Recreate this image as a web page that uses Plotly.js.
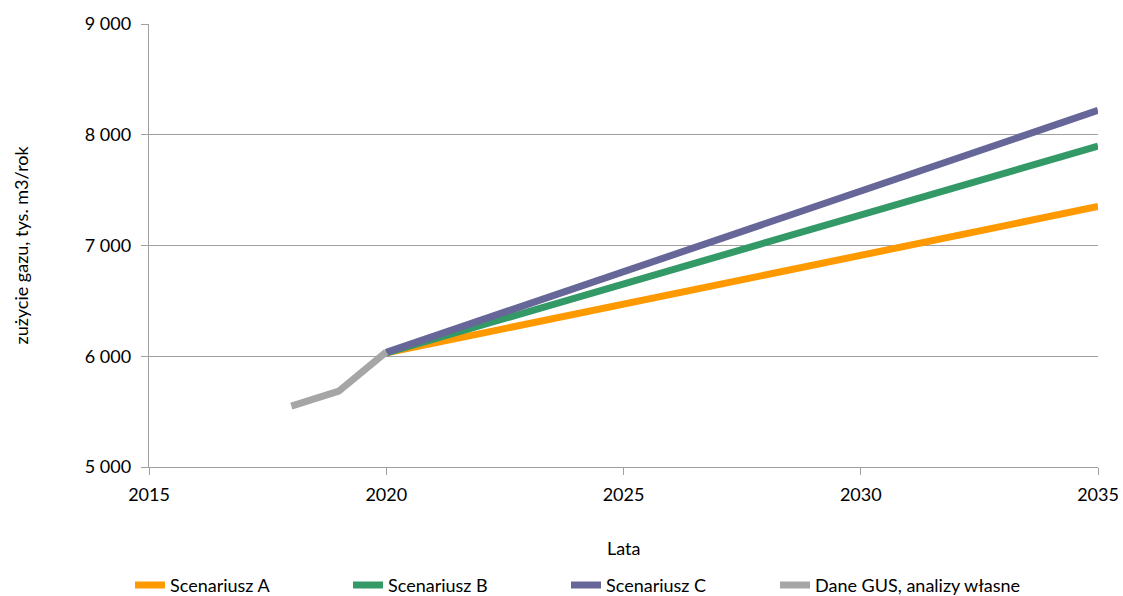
<!DOCTYPE html>
<html>
<head>
<meta charset="utf-8">
<script src="https://cdn.plot.ly/plotly-3.0.1.min.js"></script>
<style>html,body{margin:0;padding:0;background:#fff;}#chart{width:1123px;height:596px;}</style>
</head>
<body>
<div id="chart"></div>
<script>
var scenarioYears = [2020, 2035];
var scenarioA = [6030, 7352];
var scenarioB = [6030, 7898];
var scenarioC = [6035, 8220];
var gusYears = [2018, 2019, 2020];
var gusValues = [5550, 5685, 6038];
var seriesNames = ["Scenariusz A", "Scenariusz B", "Scenariusz C", "Dane GUS, analizy własne"];
var colors = ["#FF9900", "#339966", "#666699", "#A6A6A6"];
var xTitle = "Lata";
var yTitle = "zużycie gazu, tys. m3/rok";

var font = "Lato, 'Open Sans', 'Liberation Sans', sans-serif";
function tr(x, y, i, leg) {
  return {x: x, y: y, name: seriesNames[i], type: "scatter", mode: "lines", legend: leg,
    line: {color: colors[i], width: 7}, hoverinfo: "x+y"};
}
var data = [
  tr(scenarioYears, scenarioA, 0, "legend"),
  tr(scenarioYears, scenarioB, 1, "legend"),
  tr(scenarioYears, scenarioC, 2, "legend"),
  tr(gusYears, gusValues, 3, "legend2")
];
var legBase = {orientation: "h", xanchor: "left", xref: "container", y: 0.018, yanchor: "middle",
  yref: "container", font: {size: 18}, tracegroupgap: 0, bgcolor: "rgba(0,0,0,0)"};
var layout = {
  width: 1123, height: 596,
  margin: {l: 149, r: 25, t: 24, b: 129},
  paper_bgcolor: "#fff", plot_bgcolor: "#fff",
  separators: ", ",
  font: {family: font, size: 18, color: "#000"},
  showlegend: true,
  legend: Object.assign({}, legBase, {x: 130 / 1123, entrywidth: 173, entrywidthmode: "pixels"}),
  legend2: Object.assign({}, legBase, {x: 775 / 1123}),
  xaxis: {range: [2015, 2035], dtick: 5, tick0: 2015, showgrid: false, zeroline: false, automargin: false,
    showline: true, linecolor: "#A0A0A0", linewidth: 1.3, ticks: "outside", ticklen: 7,
    tickcolor: "#A0A0A0", tickfont: {size: 18}, tickformat: "d", ticklabelstandoff: 4},
  yaxis: {range: [5000, 9000], dtick: 1000, showgrid: true, gridcolor: "#A0A0A0", gridwidth: 1.3,
    zeroline: false, automargin: false, showline: true, linecolor: "#A0A0A0", linewidth: 1.3, ticks: "outside",
    ticklen: 7, tickcolor: "#A0A0A0", tickfont: {size: 18}, tickformat: ",d", ticklabelstandoff: 6},
  annotations: [
    {text: xTitle, xref: "paper", x: 0.5, yref: "paper", y: (467 - 548) / 443, xanchor: "center",
      yanchor: "middle", showarrow: false, font: {size: 18}},
    {text: yTitle, xref: "paper", x: (20 - 149) / 949, yref: "paper", y: 0.5, xanchor: "center",
      yanchor: "middle", textangle: -90, showarrow: false, font: {size: 18}}
  ]
};
Plotly.newPlot("chart", data, layout, {displayModeBar: false, staticPlot: true});
</script>
</body>
</html>
